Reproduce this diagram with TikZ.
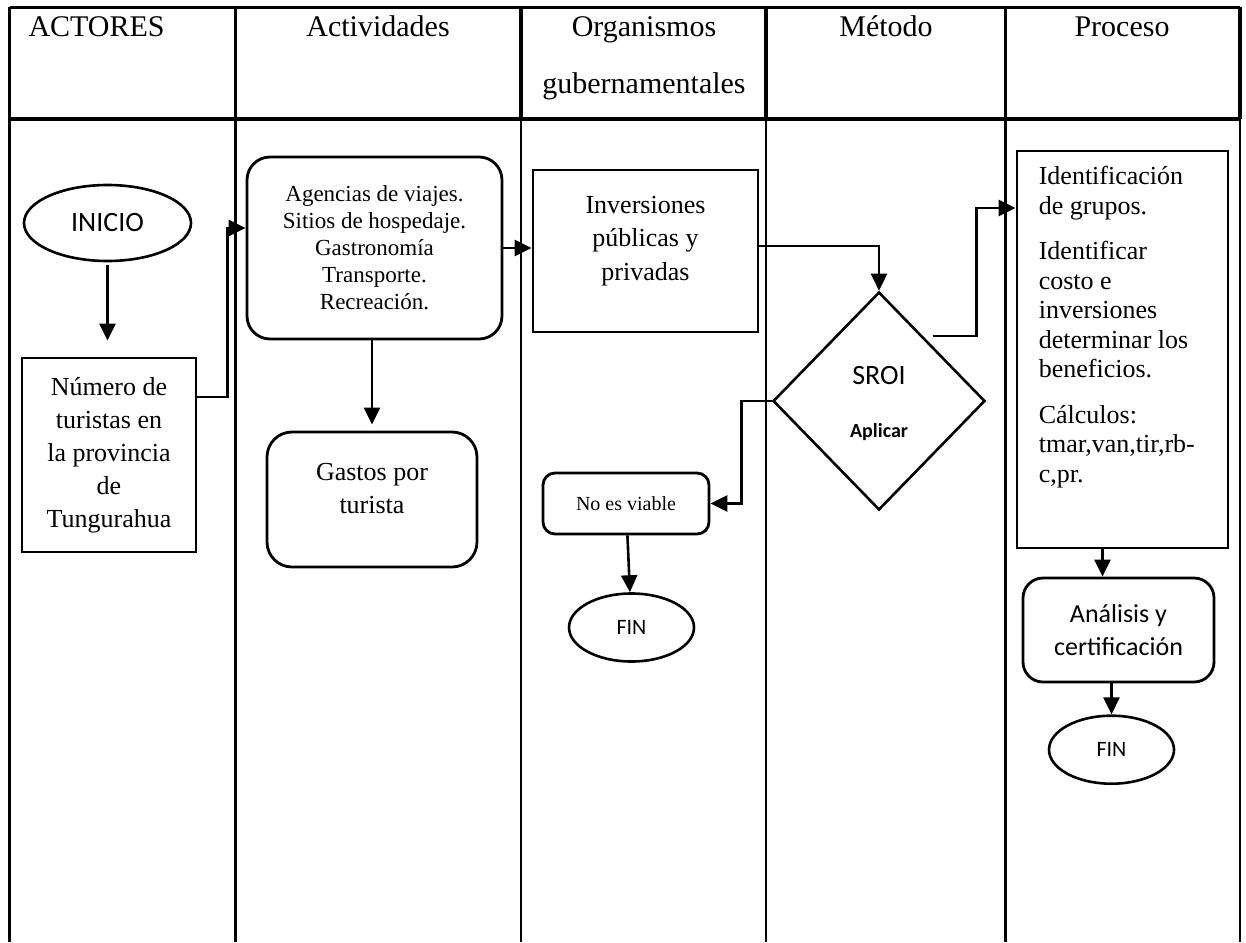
\documentclass[tikz,border=0pt]{standalone}
\usepackage{fontspec}
\setmainfont{Liberation Serif}
\newfontfamily\calibrifont{Carlito}
\usetikzlibrary{arrows.meta,positioning,shapes.geometric}
\tikzset{
  fdgrid/.style={line width=2.2pt},
  fdrule/.style={line width=3.2pt},
  fdhead/.style={font=\fontsize{30}{34}\selectfont, anchor=base},
  fdbox/.style={draw, rectangle, line width=2.8pt, inner sep=0pt},
  fdround/.style={fdbox, rounded corners=#1},
  fdround/.default=20pt,
  fdterm/.style={draw, ellipse, line width=2.6pt, minimum width=125pt, minimum height=68pt, inner sep=0pt, font=\calibrifont\fontsize{22}{26}\selectfont},
  fdarrow/.style={-{Triangle[length=17pt,width=16pt]}, line width=2.6pt},
  fdtext/.style={font=\fontsize{26}{33}\selectfont, align=center},
}
\newcommand{\fdcal}[1]{\calibrifont\fontsize{#1}{#1}\selectfont}

\begin{document}
\begin{tikzpicture}[x=1pt,y=-1pt]
  \useasboundingbox (0,0) rectangle (1246,942);

  \draw[fdrule] (9.5,7.3) -- (1240,7.3);
  \draw[fdrule] (9.5,119) -- (1240,119);
  \foreach \cx in {9.5,235.5,521,766,1005.5,1240}{
    \draw[fdrule] (\cx,7.3) -- (\cx,119);
    \draw[fdgrid] (\cx,119) -- (\cx,942);
  }

  \node[fdhead, anchor=base west] (hact) at (25,37) {ACTORES};
  \node[fdhead] (hactiv) at (378,37) {Actividades};
  \node[fdhead] (horg) at (644,37) {Organismos};
  \node[fdhead] (hgub) at (644,93) {gubernamentales};
  \node[fdhead] (hmet) at (886,37) {Método};
  \node[fdhead] (hproc) at (1122,37) {Proceso};

  \node[fdterm, minimum width=167pt, minimum height=76pt, font=\fdcal{28}] (inicio) at (107.5,223) {INICIO};
  \node[fdbox, fdtext, minimum width=174pt, minimum height=194pt] (num) at (109,455)
    {Número de\\turistas en\\la provincia\\de\\Tungurahua};

  \node[fdround=23pt, minimum width=255pt, minimum height=182pt, align=center, font=\fontsize{23}{27}\selectfont] (agen) at (374.5,248)
    {Agencias de viajes.\\Sitios de hospedaje.\\Gastronomía\\Transporte.\\Recreación.};
  \node[fdround=25pt, minimum width=210pt, minimum height=135pt,
    label={[fdtext, yshift=11pt]center:Gastos por\\turista}] (gastos) at (372,499.5) {};

  \node[fdbox, minimum width=225pt, minimum height=162pt,
    label={[fdtext, font=\fontsize{26}{33.5}\selectfont, yshift=10pt]center:Inversiones\\públicas y\\privadas}] (inv) at (645.5,251) {};
  \node[fdround=12pt, minimum width=166pt, minimum height=61pt, font=\fontsize{20}{24}\selectfont] (nov) at (626,503.5) {No es viable};
  \node[fdterm] (fin1) at (631.5,627.5) {FIN};

  \node[draw, diamond, line width=2.6pt, minimum width=212pt, minimum height=218pt, inner sep=0pt,
    label={[font=\fdcal{28}, yshift=25pt]center:SROI},
    label={[font=\fdcal{20}\bfseries, yshift=-31pt]center:Aplicar}] (sroi) at (879,401) {};

  \node[fdbox, minimum width=211pt, minimum height=397pt,
    label={[anchor=north west, align=left, inner sep=0pt, font=\fontsize{26}{29.5}\selectfont, xshift=23pt, yshift=-16.5pt]north west:Identificación\\de grupos.\\[16pt]Identificar\\costo e\\inversiones\\determinar los\\beneficios.\\[16pt]Cálculos:\\tmar,van,tir,rb-\\c,pr.}] (proc) at (1122.5,349.5) {};
  \node[fdround=20pt, minimum width=191pt, minimum height=104pt, align=center, font=\calibrifont\fontsize{26}{33}\selectfont] (ana) at (1118.5,630)
    {Análisis y\\certificación};
  \node[fdterm, below=31pt of ana, xshift=-7pt] (fin2) {FIN};

  \draw[fdarrow, shorten <=3pt, shorten >=16pt] (inicio.south) -- (inicio.south |- num.north);
  \draw[fdarrow] ([yshift=58pt]num.east) -- ++(30,0) |- ([yshift=20pt]agen.west);
  \draw[fdarrow, shorten >=6pt] (gastos.north |- agen.south) -- (gastos.north);
  \draw[fdarrow] (agen.east) -- (agen.east -| inv.west);
  \draw[fdarrow] ([yshift=5pt]inv.east) -| (sroi.north);
  \draw[fdarrow] (sroi.west) -- ++(-30,0) |- (nov.east);
  \draw[fdarrow] (nov) -- (fin1);
  \draw[fdarrow] ([yshift=10pt]sroi.north east) -- ++(44,0) |- ([yshift=141.5pt]proc.west);
  \draw[fdarrow] ([xshift=-16pt]ana.north |- proc.south) -- ([xshift=-16pt]ana.north);
  \draw[fdarrow] (fin2.north |- ana.south) -- (fin2.north);
\end{tikzpicture}
\end{document}
